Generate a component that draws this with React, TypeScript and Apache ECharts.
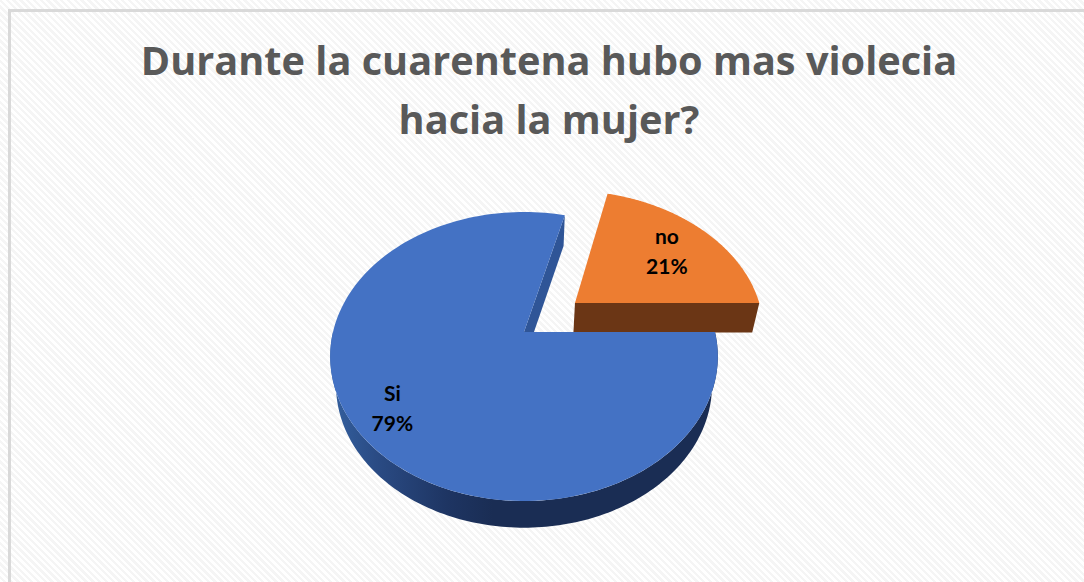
import React, { useEffect, useRef } from "react";
import * as echarts from "echarts";

const titleLines = ["Durante la cuarentena hubo mas violecia", "hacia la mujer?"];
const categories = ["no", "Si"];
const shares = [21, 79];
const explodeRatio = [0.35, 0];
const labelRatio = [0.7, 0.8];
const topColors = ["#ed7d31", "#4472c4"];
const cutWallColors = ["#6b3615", "#2f5597"];

const CX = 524, CY = 332, RX = 191, RY = 140.35, PERSP = 0.1696;

type Pt = [number, number];
const project = (u: number, v: number): Pt => {
  const d = 1 + PERSP * v;
  return [CX + (RX * u) / d, CY - (RY * v) / d];
};
const lower = ([x, y]: Pt): Pt => [CX + (x - CX) * 0.97, y + 30.7 - 0.014 * (y - 215)];

const pct = (s: number, total: number) => `${Math.round((s / total) * 100)}%`;

function sliceShape(i: number) {
  const total = shares.reduce((a, b) => a + b, 0);
  let start = 0;
  for (let k = 0; k < i; k++) start += (shares[k] / total) * Math.PI * 2;
  const end = start + (shares[i] / total) * Math.PI * 2;
  const mid = (start + end) / 2;
  const ox = Math.cos(mid) * explodeRatio[i];
  const oy = Math.sin(mid) * explodeRatio[i];
  const at = (a: number, r = 1) => project(ox + Math.cos(a) * r, oy + Math.sin(a) * r);
  return { start, end, mid, at };
}

function renderSlice(params: any) {
  const i = params.dataIndex;
  const { start, end, mid, at } = sliceShape(i);
  const children: any[] = [];
  const N = 160;
  const arc: Pt[] = [];
  for (let k = 0; k <= N; k++) arc.push(at(start + ((end - start) * k) / N));
  const apex = at(0, 0);

  // outer rim: only the near half (south side) of the disc is visible
  const rimFrom = Math.max(start, Math.PI);
  const rimTo = Math.min(end, Math.PI * 2);
  if (rimTo > rimFrom) {
    const rimTop: Pt[] = [];
    for (let k = 0; k <= N; k++) rimTop.push(at(rimFrom + ((rimTo - rimFrom) * k) / N));
    children.push({
      type: "polygon",
      shape: { points: [...rimTop, ...rimTop.slice().reverse().map(lower)] },
      style: {
        fill: new echarts.graphic.LinearGradient(0, 0, 1, 0, [
          { offset: 0, color: "#34609f" },
          { offset: 0.12, color: "#2a4b84" },
          { offset: 0.3, color: "#1e3563" },
          { offset: 0.42, color: "#1a2d54" },
          { offset: 1, color: "#1a2d54" },
        ]),
      },
    });
  }

  // cut face that looks towards the viewer
  const cutEnd = at(start);
  children.push({
    type: "polygon",
    shape: { points: [apex, cutEnd, lower(cutEnd), lower(apex)] },
    style: { fill: cutWallColors[i] },
  });

  // top face
  children.push({
    type: "polygon",
    shape: { points: [apex, ...arc] },
    style: { fill: topColors[i] },
  });

  const total = shares.reduce((a, b) => a + b, 0);
  const [lx, ly] = at(mid, labelRatio[i]);
  children.push({
    type: "text",
    x: lx,
    y: ly,
    style: {
      text: `${categories[i]}\n${pct(shares[i], total)}`,
      fill: "#000000",
      font: "bold 21px 'Lato'",
      lineHeight: 30,
      align: "center",
      verticalAlign: "middle",
    },
  });
  return { type: "group", children };
}

export default function App() {
  const ref = useRef<HTMLDivElement>(null);
  useEffect(() => {
    const chart = echarts.init(ref.current!, undefined, { renderer: "svg" });
    chart.setOption({
      animation: false,
      backgroundColor: "transparent",
      title: {
        text: titleLines.join("\n"),
        left: 544,
        top: 25,
        textAlign: "center",
        textStyle: {
          color: "#595959",
          fontFamily: "Open Sans",
          fontWeight: "bold",
          fontSize: 39.7,
          lineHeight: 59,
        },
      },
      graphic: [
        { type: "rect", shape: { x: 8, y: 9, width: 1076, height: 3 }, style: { fill: "#d9d9d9" }, silent: true },
        { type: "rect", shape: { x: 8, y: 9, width: 3, height: 573 }, style: { fill: "#d9d9d9" }, silent: true },
      ],
      series: [
        {
          type: "custom",
          coordinateSystem: "none",
          renderItem: renderSlice,
          data: categories.map((c, i) => ({ name: c, value: shares[i] })),
        },
      ],
    });
    return () => chart.dispose();
  }, []);
  return (
    <div
      style={{
        position: "fixed",
        left: 0,
        top: 0,
        width: 1084,
        height: 582,
        background:
          "repeating-linear-gradient(45deg, #ffffff 0px, #ffffff 2.4px, #f5f5f5 2.4px, #f5f5f5 4.8px)",
      }}
    >
      <div ref={ref} style={{ width: 1084, height: 582 }} />
    </div>
  );
}
